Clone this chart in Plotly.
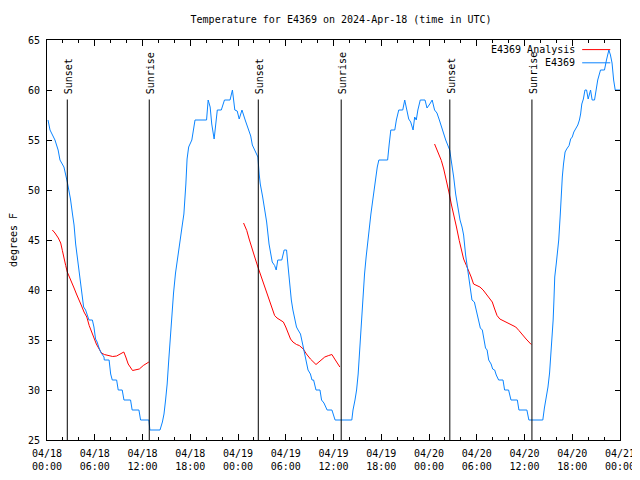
import pandas as pd
import plotly.graph_objects as go

base = pd.Timestamp("2024-04-18 00:00")

# Observed temperature (E4369): hours since 04/18 00:00 UTC, degrees F
obs_hours = [0.13, 0.38, 1.0, 1.4, 1.63, 2.13, 2.55, 2.95, 3.2, 3.4, 3.6, 3.8, 4.0, 4.23, 4.44, 4.6, 4.85, 5.06,
             5.27, 5.7, 5.9, 6.1, 6.3, 6.5, 6.74, 7.16, 7.2, 7.8, 8.0, 8.2, 8.75, 8.95, 9.45, 9.67, 10.5, 10.7,
             11.55, 11.76, 12.8, 12.93, 14.2, 14.5, 14.7, 14.9, 15.1, 15.3, 15.5, 15.73, 15.9, 16.15, 16.36,
             16.57, 16.8, 17.0, 17.2, 17.35, 17.45, 17.6, 17.8, 18.2, 18.4, 18.6, 20.05, 20.25, 20.5, 20.7,
             21.0, 21.2, 21.4, 21.9, 22.3, 23.0, 23.3, 23.6, 23.9, 24.15, 24.5, 24.9, 25.3, 25.6, 25.8, 26.1,
             26.5, 26.66, 26.8, 27.1, 27.4, 27.6, 27.9, 28.1, 28.3, 28.6, 28.8, 29.0, 29.5, 29.8, 30.1, 30.3,
             30.5, 30.7, 30.9, 31.1, 31.35, 31.55, 31.85, 32.2, 32.4, 32.6, 32.8, 33.1, 33.3, 33.5, 33.8, 34.3,
             34.5, 34.8, 35.2, 35.8, 36.2, 38.3, 38.45, 38.7, 38.9, 39.1, 39.3, 39.5, 39.7, 39.9, 40.1, 40.3,
             40.55, 40.7, 40.9, 41.1, 41.3, 41.5, 41.7, 42.8, 43.0, 43.2, 43.7, 43.9, 44.2, 44.7, 44.95, 45.2,
             45.45, 45.7, 46.0, 46.2, 46.4, 46.6, 46.9, 47.5, 47.75, 48.1, 48.4, 48.7, 49.0, 49.3, 49.55, 49.75,
             50.1, 50.6, 50.9, 51.1, 51.35, 51.55, 51.7, 51.9, 52.15, 52.35, 52.6, 52.8, 53.0, 53.2, 53.4, 53.7,
             54.0, 54.2, 54.45, 54.7, 54.9, 55.1, 55.3, 55.5, 55.8, 56.0, 56.25, 56.45, 56.75, 57.3, 57.5, 58.0,
             58.3, 59.1, 59.3, 60.3, 60.55, 62.3, 62.5, 62.7, 62.95, 63.15, 63.3, 63.4, 63.6, 63.7, 63.8, 64.0,
             64.15, 64.3, 64.5, 64.6, 64.75, 64.9, 65.1, 65.3, 65.6, 65.8, 66.0, 66.2, 66.4, 66.7, 66.9, 67.05,
             67.2, 67.4, 67.6, 67.8, 68.0, 68.3, 68.5, 68.8, 69.0, 69.2, 69.55, 70.05, 70.3, 70.6, 70.8, 71.0,
             71.2, 71.4, 72.0]
obs_temps = [57, 56, 55, 54, 53, 52.3, 50.8, 49.1, 47.6, 46.5, 44.6, 43.4, 41.8, 40.3, 39, 38.3, 38, 37.5,
             37, 37, 36.3, 35.1, 34.8, 34.3, 33.8, 33.3, 33, 33, 31.6, 31, 31, 30, 30, 29, 29, 28,
             28, 27, 27, 26, 26, 26.8, 27.6, 29, 30.6, 33, 35.3, 38.3, 39.7, 41.7, 43,
             44, 45.6, 46.5, 47.6, 49, 50.6, 53.1, 54.3, 55, 56, 57, 57, 59, 58.3, 56.6,
             55.1, 56.3, 58, 58, 59, 59, 60, 58, 57.9, 57.1, 58, 57, 56.1, 55.4, 54.5, 54,
             53.3, 51.6, 50.6, 49.3, 47.8, 46.8, 44.6, 43.6, 42.8, 42.45, 42, 43, 43, 44, 44, 42.3,
             40.3, 39, 38, 37.1, 36.3, 36, 35.6, 34.3, 33.5, 32.6, 32, 31.6, 31, 31, 30, 30,
             29, 28.7, 28, 28, 27, 27, 28, 29, 30, 31.6, 34, 37.3, 39.6, 41.6, 43.3, 45,
             46.6, 47.6, 48.8, 50, 51.3, 52.3, 53, 53, 54.6, 56, 56, 57, 58, 58, 59, 58,
             57.1, 56.8, 56, 57.3, 57, 58, 59, 59, 58.2, 58.6, 59, 58, 57.7, 57, 56.3, 56,
             55, 54, 52.5, 51.3, 49.6, 48.6, 47.8, 47, 46.3, 45.5, 43.5, 42.3, 41.6, 40.3, 39, 38.8,
             37.8, 37, 36.2, 36, 35.2, 34.2, 34, 33, 32.6, 32.1, 32, 31.5, 31, 31, 30, 30,
             29, 29, 28, 28, 27, 27, 28.2, 29, 30.3, 31.7, 33.3, 35, 37, 39, 41.3, 42.7,
             43.7, 45, 47.6, 49.3, 51.3, 52.6, 53.8, 54.1, 54.45, 55.1, 55.3, 55.8, 56.1, 56.5, 57, 57.6,
             58.6, 59.1, 60, 60, 59.1, 60, 59, 59, 60, 61, 62, 62, 63, 64, 63.5, 62.7,
             61, 60, 60]

# Analysis (three separate runs)
ana1_hours = [0.67, 1.0, 1.42, 1.72, 1.93, 2.13, 2.35, 2.55, 2.76, 3.1, 3.4, 3.7, 4.0, 4.35, 4.65, 5.0, 5.3,
              5.6, 5.9, 6.2, 6.55, 6.85, 7.2, 7.7, 8.25, 8.75, 9.15, 9.65, 9.9, 10.2, 10.75, 11.25, 11.6,
              12.1, 12.5, 12.8]
ana1_temps = [46, 45.7, 45.2, 44.7, 43.95, 43.1, 42.45, 41.8, 41.35, 40.8, 40.2, 39.6, 38.95, 38.4, 37.8,
              37.3, 36.45, 35.8, 35.2, 34.6, 34.1, 33.7, 33.55, 33.45, 33.35, 33.4, 33.6, 33.8, 33.3, 32.6,
              31.95, 32.0, 32.1, 32.45, 32.7, 32.8]
ana2_hours = [24.7, 25.1, 25.4, 25.75, 26.1, 26.5, 26.95, 27.4, 27.8, 28.2, 28.6, 28.9, 29.25, 29.7, 30.0,
              30.3, 30.6, 30.9, 31.35, 31.7, 32.2, 32.6, 33.1, 33.8, 34.3, 34.9, 35.4, 35.8, 36.15, 36.45,
              36.8]
ana2_temps = [46.7, 45.95, 45.1, 44.3, 43.3, 42.3, 41.3, 40.3, 39.3, 38.3, 37.45, 37.2, 37, 36.8, 36.3,
              35.6, 35.1, 34.8, 34.55, 34.45, 34.1, 33.6, 33.1, 32.55, 32.9, 33.3, 33.45, 33.55, 33.1, 32.7,
              32.3]
ana3_hours = [48.7, 49.1, 49.55, 49.85, 50.2, 50.5, 50.8, 51.15, 51.45, 51.8, 52.05, 52.35, 52.7, 53.0,
              53.3, 53.6, 53.95, 54.4, 54.8, 55.2, 55.6, 55.95, 56.25, 56.55, 56.9, 57.3, 57.7, 58.35, 58.9,
              59.3, 59.8, 60.2, 60.85]
ana3_temps = [54.6, 53.8, 52.95, 52.1, 50.95, 49.8, 48.6, 47.45, 46.3, 44.95, 43.95, 43.1, 42.45, 41.95,
              41.3, 40.6, 40.45, 40.3, 40.0, 39.6, 39.2, 38.8, 38.1, 37.45, 37.1, 36.95, 36.8, 36.55, 36.3,
              35.95, 35.45, 35.1, 34.55]

sunset_times = ["2024-04-18 02:33", "2024-04-19 02:33", "2024-04-20 02:37"]
sunrise_times = ["2024-04-18 12:51", "2024-04-19 12:58", "2024-04-20 12:56"]

tick_hours = list(range(0, 73, 6))
tick_labels = ["04/18<br>00:00", "04/18<br>06:00", "04/18<br>12:00", "04/18<br>18:00",
               "04/19<br>00:00", "04/19<br>06:00", "04/19<br>12:00", "04/19<br>18:00",
               "04/20<br>00:00", "04/20<br>06:00", "04/20<br>12:00", "04/20<br>18:00",
               "04/21<br>00:00"]

FONT = "DejaVu Sans Mono"
BLUE = "#0a84ff"
RED = "#ff0000"


def to_time(hours):
    return [base + pd.Timedelta(hours=h) for h in hours]


ana_x, ana_y = [], []
for hs, ts in [(ana1_hours, ana1_temps), (ana2_hours, ana2_temps), (ana3_hours, ana3_temps)]:
    ana_x += to_time(hs) + [None]
    ana_y += ts + [None]

fig = go.Figure()
fig.add_trace(go.Scatter(x=ana_x, y=ana_y, mode="lines", name="E4369 Analysis",
                         line=dict(color=RED, width=1), connectgaps=False))
fig.add_trace(go.Scatter(x=to_time(obs_hours), y=obs_temps, mode="lines", name="E4369",
                         line=dict(color=BLUE, width=1)))

shapes = []
annotations = []
for label, times in [("Sunset", sunset_times), ("Sunrise", sunrise_times)]:
    for t in times:
        shapes.append(dict(type="line", xref="x", yref="y", x0=t, x1=t, y0=25, y1=59.05,
                           line=dict(color="black", width=1)))
        annotations.append(dict(x=t, y=59.4, xref="x", yref="y", text=label, textangle=-90,
                                showarrow=False, xanchor="center", yanchor="bottom", xshift=1,
                                font=dict(family=FONT, size=10, color="black")))

# legend (key on the right side of the labels)
for name, color, yp in [("E4369 Analysis", RED, 0.976), ("E4369", BLUE, 0.943)]:
    annotations.append(dict(x=0.925, y=yp, xref="paper", yref="paper", text=name, showarrow=False,
                            xanchor="right", yanchor="middle",
                            font=dict(family=FONT, size=10, color="black")))
    shapes.append(dict(type="line", xref="paper", yref="paper", x0=0.934, x1=0.983, y0=yp, y1=yp,
                       line=dict(color=color, width=1)))

# page body has an 8px margin, so the figure sits at (8, 8); size and margins compensate
fig.update_layout(
    width=632, height=464,
    margin=dict(l=39, r=19.5, t=32, b=32, autoexpand=False),
    paper_bgcolor="white", plot_bgcolor="white",
    showlegend=False,
    font=dict(family=FONT, size=10, color="black"),
    title=dict(text="Temperature for E4369 on 2024-Apr-18 (time in UTC)", x=0.527, xanchor="center",
               y=1 - 11 / 464, yanchor="middle", font=dict(family=FONT, size=10, color="black")),
    shapes=shapes, annotations=annotations,
)
fig.update_xaxes(range=[base, base + pd.Timedelta(hours=72)], automargin=False,
                 tickmode="array", tickvals=to_time(tick_hours), ticktext=tick_labels,
                 ticks="inside", ticklen=6, tickcolor="black", showline=True, linecolor="black",
                 linewidth=1, mirror="allticks", showgrid=False, zeroline=False, ticklabelstandoff=4,
                 minor=dict(dtick=2 * 3600000, ticks="inside", ticklen=3, tickcolor="black", showgrid=False),
                 tickfont=dict(family=FONT, size=10, color="black"))
fig.update_yaxes(range=[25, 65], dtick=5, ticks="inside", ticklen=5, tickcolor="black", automargin=False,
                 showline=True, linecolor="black", linewidth=1, mirror="allticks",
                 showgrid=False, zeroline=False, ticklabelstandoff=4,
                 title=dict(text="degrees F", font=dict(family=FONT, size=10, color="black"), standoff=18),
                 tickfont=dict(family=FONT, size=10, color="black"))

fig.write_html("out.html")
